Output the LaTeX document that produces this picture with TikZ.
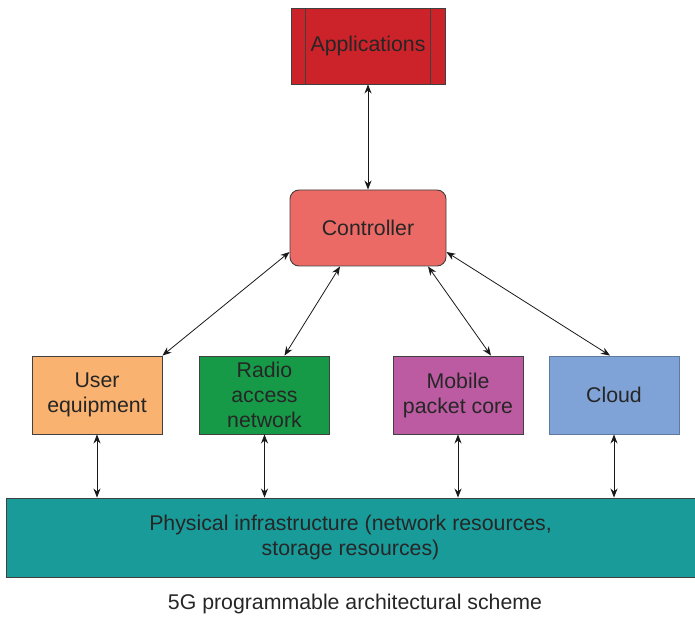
\documentclass[tikz,border=0pt]{standalone}
\usepackage{fontspec}
\setsansfont{Liberation Sans}
\usetikzlibrary{positioning,arrows.meta}

\definecolor{appred}{HTML}{CC2229}
\definecolor{ctrlred}{HTML}{EC6A65}
\definecolor{ueorange}{HTML}{F9B26F}
\definecolor{rangreen}{HTML}{179A48}
\definecolor{mpcpurple}{HTML}{BC5BA2}
\definecolor{cloudblue}{HTML}{7FA3D6}
\definecolor{phyteal}{HTML}{199B9A}

\tikzset{
  lbl/.style={text=black!85,font=\sffamily\fontsize{21.3}{25}\selectfont,align=center},
  box/.style={lbl,draw=black!75,line width=0.9pt,minimum width=130pt,
    minimum height=78pt,inner sep=0pt},
  link/.style={{Stealth[length=9pt,width=7pt]}-{Stealth[length=9pt,width=7pt]},
    line width=0.8pt,black!90}
}

\begin{document}
\begin{tikzpicture}[x=1pt,y=-1pt,node distance=3cm,on grid]
  \useasboundingbox (0,0) rectangle (695,617);
  % top of the scheme
  \node[box,fill=appred,minimum width=154pt,minimum height=76pt] (app) at (368,46) {Applications};
  \draw[black!75,line width=0.9pt]
    ([xshift=15pt]app.north west) -- ([xshift=15pt]app.south west)
    ([xshift=-15pt]app.north east) -- ([xshift=-15pt]app.south east);
  \node[box,fill=ctrlred,rounded corners=9pt,minimum width=156pt,minimum height=76pt]
    (ctrl) [below=182pt of app] {Controller};
  % middle row
  \node[box,fill=ueorange] (ue) [below left=167pt and 271pt of ctrl] {User\\equipment};
  \node[box,fill=rangreen] (ran) [right=167.5pt of ue] {Radio\\access\\network};
  \node[box,fill=mpcpurple] (mpc) [right=193.5pt of ran] {Mobile\\packet core};
  \node[box,fill=cloudblue,draw=cloudblue!75!black] (cloud) [right=156pt of mpc] {Cloud};
  % bottom
  \node[box,fill=phyteal,minimum width=689pt,minimum height=79pt] (phy) at (350.5,537.5)
    {Physical infrastructure (network resources,\\storage resources)};
  \node[lbl] (cap) at (355,604) {5G programmable architectural scheme};

  \path[link]
    (app) edge (ctrl)
    ([yshift=-24pt]ctrl.west) edge (ue.north east)
    ([xshift=-28pt]ctrl.south) edge ([xshift=20pt]ran.north)
    ([xshift=60pt]ctrl.south) edge ([xshift=33pt]mpc.north)
    ([yshift=-24pt]ctrl.east) edge ([xshift=-4pt]cloud.north);
  \foreach \m in {ue,ran,mpc,cloud}
    \draw[link] (\m.south) -- (\m.south |- phy.north);
\end{tikzpicture}
\end{document}
